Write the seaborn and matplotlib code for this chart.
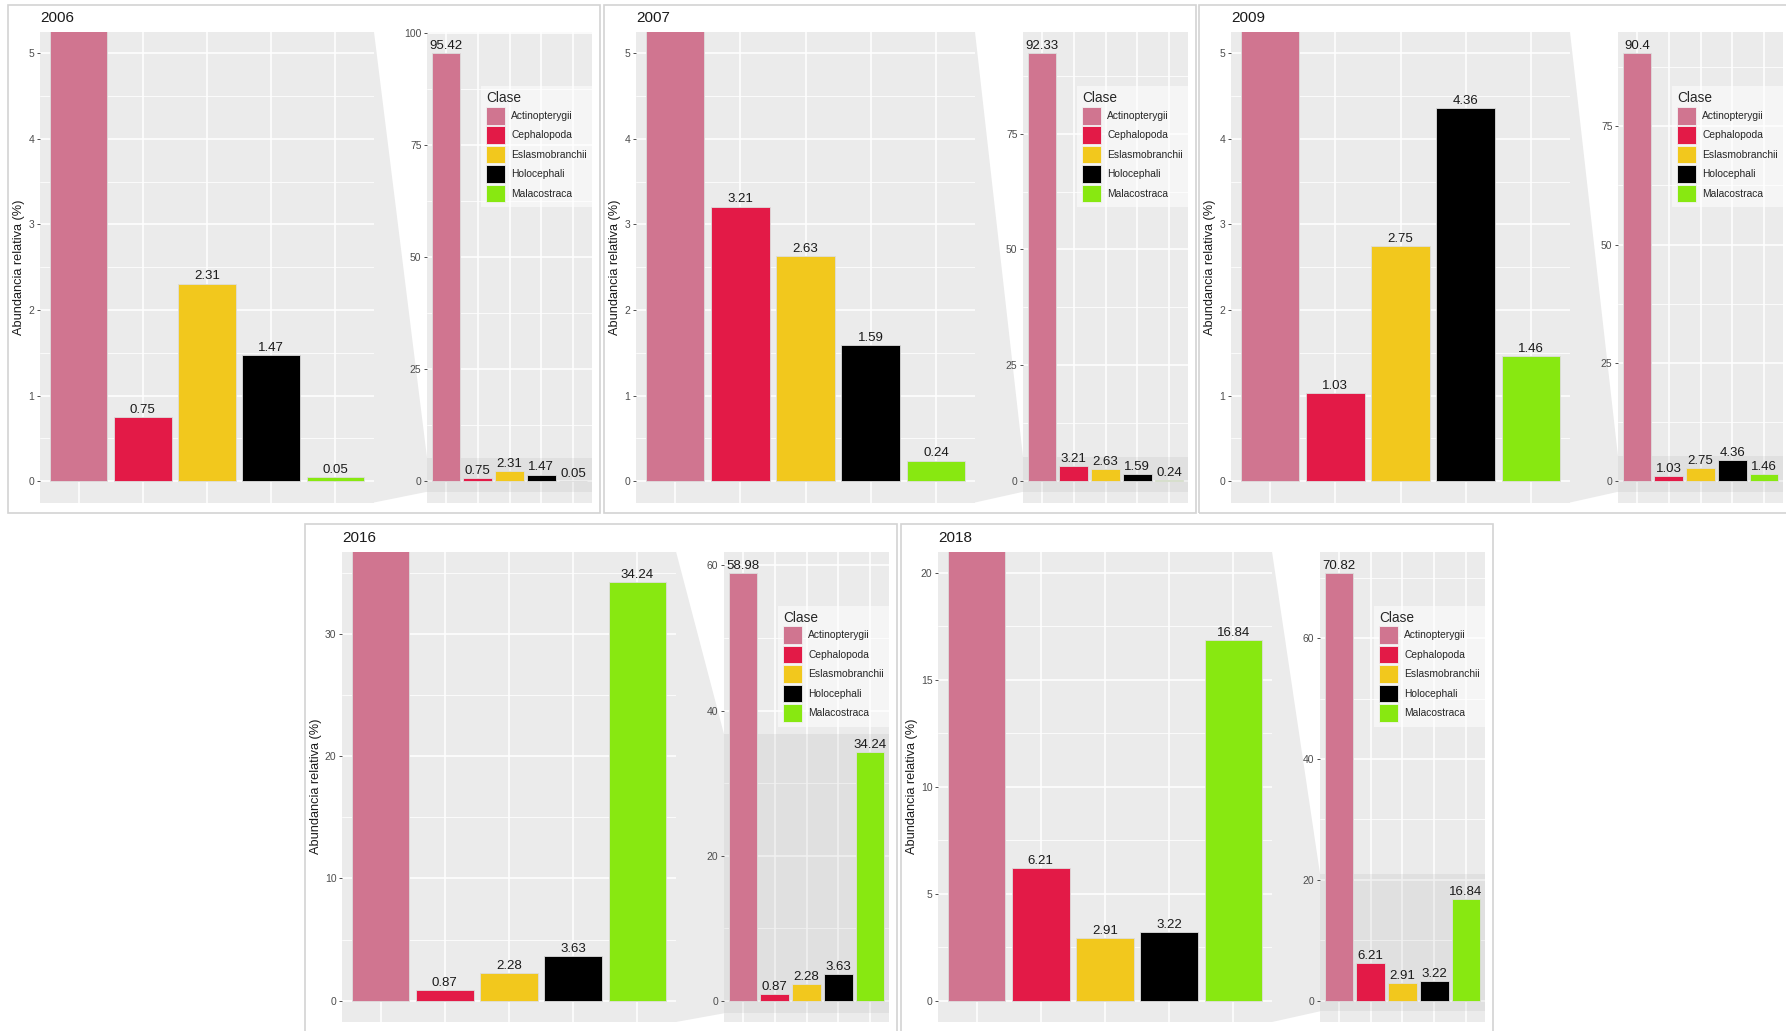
import matplotlib
matplotlib.use("Agg")
import numpy as np
import pandas as pd
import matplotlib.pyplot as plt
import seaborn as sns
from matplotlib.patches import Rectangle, Polygon, Patch
from matplotlib.ticker import MultipleLocator, AutoMinorLocator

# Datos: abundancia relativa (%) por clase y año
years = ["2006", "2007", "2009", "2016", "2018"]
clases = ["Actinopterygii", "Cephalopoda", "Eslasmobranchii", "Holocephali", "Malacostraca"]
colores = ["#D07590", "#E31A47", "#F2C81D", "#000000", "#88E811"]

ab_2006 = [95.42, 0.75, 2.31, 1.47, 0.05]
ab_2007 = [92.33, 3.21, 2.63, 1.59, 0.24]
ab_2009 = [90.4, 1.03, 2.75, 4.36, 1.46]
ab_2016 = [58.98, 0.87, 2.28, 3.63, 34.24]
ab_2018 = [70.82, 6.21, 2.91, 3.22, 16.84]
abundancias = [ab_2006, ab_2007, ab_2009, ab_2016, ab_2018]

# limite superior del zoom y separacion de marcas
zoom_max = [5, 5, 5, 35, 20]
paso_zoom = [1, 1, 1, 10, 5]
paso_total = [25, 25, 25, 20, 20]

sns.set_theme(style="darkgrid")
plt.rcParams["font.family"] = ["Liberation Sans", "DejaVu Sans"]

W, H = 1786, 1031
fig = plt.figure(figsize=(W / 100, H / 100), dpi=100)
fig.patch.set_facecolor("white")

paleta = dict(zip(clases, colores))
origen = [(8, 4.5), (604, 4.5), (1199, 4.5), (305, 524), (901, 524)]


def frac(x, y, w, h):
    return [x / W, 1 - (y + h) / H, w / W, h / H]


def estilo(ax, lo, hi, paso):
    ax.set_facecolor("#EBEBEB")
    ax.set_ylim(lo, hi)
    ax.set_xlim(-0.6, 4.6)
    ax.yaxis.set_major_locator(MultipleLocator(paso))
    ax.yaxis.set_minor_locator(AutoMinorLocator(2))
    ax.set_xticks(range(5))
    ax.set_xticklabels([])
    ax.grid(which="major", color="white", linewidth=1.1)
    ax.grid(which="minor", axis="y", color="white", linewidth=0.55)
    ax.set_axisbelow(True)
    for s in ax.spines.values():
        s.set_visible(False)
    ax.tick_params(axis="y", which="major", labelsize=7.5, labelcolor="#4D4D4D",
                   color="#333333", length=2.5, width=0.6, pad=1.5, left=True)
    ax.tick_params(axis="y", which="minor", length=0)
    ax.tick_params(axis="x", length=0)
    ax.set_xlabel("")
    ax.set_ylabel("")


def digitos(hi, paso):
    marcas = np.arange(0, hi + 1e-9, paso)
    return len(f"{marcas[-1]:g}")


def barras(ax, df):
    sns.barplot(data=df, x="Clase", y="Abundancia", hue="Clase", palette=paleta,
                width=0.9, saturation=1, edgecolor="#DDDDDD", linewidth=0.6,
                legend=False, ax=ax, zorder=3)
    for i, v in enumerate(df["Abundancia"]):
        ax.annotate(f"{v:g}", (i, v), xytext=(0, 0.8), textcoords="offset points",
                    ha="center", va="bottom", fontsize=9.5, color="#1A1A1A",
                    annotation_clip=True, zorder=4)


for k, year in enumerate(years):
    fx, fy = origen[k]
    vals = abundancias[k]
    df = pd.DataFrame({"Clase": clases, "Abundancia": vals})
    zmax = zoom_max[k]
    vmax = max(vals)

    z_lo, z_hi = -0.05 * zmax, 1.05 * zmax
    t_lo, t_hi = -0.05 * vmax, 1.05 * vmax
    nd_main = digitos(z_hi, paso_zoom[k])
    nd_ov = digitos(t_hi, paso_total[k])

    top = fy + 27.5
    alto = 470.5
    main_left = fx + 27 + 5 * nd_main
    main_w = 354 - 5 * (nd_main + nd_ov)
    ov_left = fx + 419
    ov_w = 165

    # marco del panel
    fig.patches.append(Rectangle(((fx) / W, 1 - (fy + 508) / H), 592 / W, 508 / H,
                                 transform=fig.transFigure, fill=False,
                                 edgecolor="#D3D3D3", linewidth=1.2, zorder=-2))

    # trapecio que une el zoom con la vista completa
    banda_lo = min(z_lo, -0.025 * vmax)
    banda_hi = z_hi
    y_px = lambda v: top + alto * (t_hi - v) / (t_hi - t_lo)
    xr = main_left + main_w
    pts = [(xr, top), (ov_left, y_px(banda_hi)), (ov_left, y_px(banda_lo)), (xr, top + alto)]
    pts = [(x / W, 1 - y / H) for x, y in pts]
    fig.patches.append(Polygon(pts, closed=True, transform=fig.transFigure,
                               facecolor="#EBEBEB", edgecolor="none", zorder=-1))

    # panel ampliado
    ax = fig.add_axes(frac(main_left, top, main_w, alto))
    barras(ax, df)
    estilo(ax, z_lo, z_hi, paso_zoom[k])

    # panel completo
    ax2 = fig.add_axes(frac(ov_left, top, ov_w, alto))
    barras(ax2, df)
    estilo(ax2, t_lo, t_hi, paso_total[k])
    ax2.axhspan(banda_lo, banda_hi, color="#808080", alpha=0.1, linewidth=0, zorder=1)

    handles = [Patch(facecolor=c, edgecolor="#F2F2F2", linewidth=0.6) for c in colores]
    leg = ax2.legend(handles, clases, title="Clase", loc="upper right",
                     bbox_to_anchor=(1, 1 - 54 / alto), borderaxespad=0,
                     fontsize=7.4, title_fontsize=9.8, frameon=True, fancybox=False,
                     handlelength=1.8, handleheight=2.25, labelspacing=0.18,
                     handletextpad=0.65, borderpad=0.5, alignment="left")
    leg.get_frame().set_facecolor("white")
    leg.get_frame().set_alpha(0.55)
    leg.get_frame().set_edgecolor("none")
    leg.set_zorder(6)

    fig.text(main_left / W, 1 - (fy + 14) / H, year, fontsize=11,
             ha="left", va="center", color="#1A1A1A")
    fig.text((fx + 11) / W, 1 - (top + alto / 2) / H, "Abundancia relativa (%)",
             rotation=90, fontsize=9.2, ha="center", va="center", color="#1A1A1A")

fig.savefig("out.png", dpi=100, facecolor="white")
